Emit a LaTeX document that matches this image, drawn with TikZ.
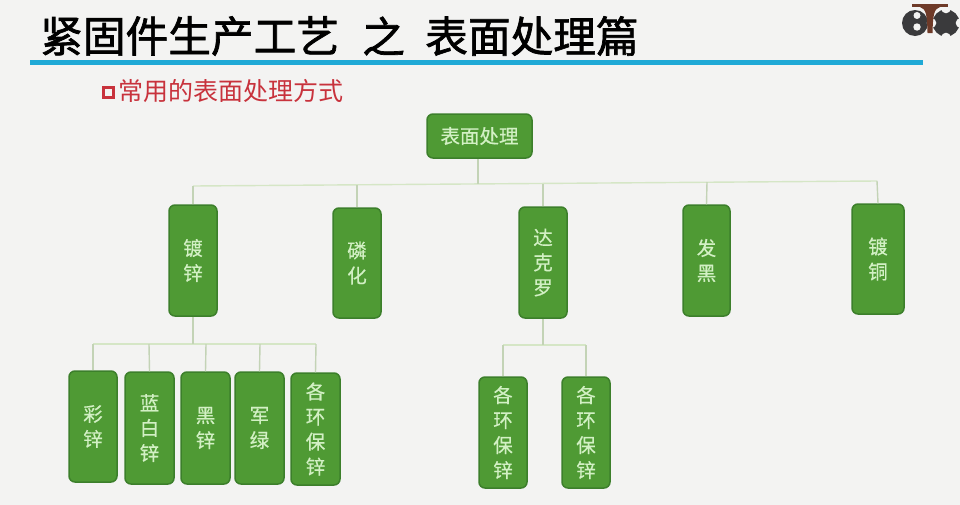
\documentclass[tikz,border=0pt]{standalone}
\usepackage{fontspec}
\setmainfont{Noto Sans CJK SC}
\newfontfamily\titlefont[FakeBold=1.6]{Noto Sans CJK SC}
\newfontfamily\boxfont[FakeBold=0.5]{Noto Sans CJK SC}
\definecolor{bgc}{HTML}{F3F3F2}
\definecolor{boxfill}{HTML}{4F9A34}
\definecolor{boxedge}{HTML}{3C7F2B}
\definecolor{boxtext}{HTML}{D2F0C4}
\definecolor{linkc}{HTML}{C3D3B6}
\definecolor{busc}{HTML}{D5E6C6}
\definecolor{ruleblue}{HTML}{1FA9D6}
\definecolor{subred}{HTML}{C8323C}
\definecolor{logod}{HTML}{3A3A3C}
\definecolor{logob}{HTML}{6E3A28}
\tikzset{
  x=1pt,y=-1pt,
  gbox/.style={draw=boxedge,line width=1.5pt,fill=boxfill,rounded corners=6pt,text=boxtext,inner sep=0pt,align=center,font=\boxfont\fontsize{19.5}{25}\selectfont},
  ttl/.style={anchor=west,inner sep=0pt,text=black,font=\titlefont\fontsize{42.7}{43}\selectfont},
  link/.style={draw=linkc,line width=1.4pt},
  bus/.style={draw=busc,line width=1.4pt},
}
\newcommand{\gnode}[5]{\node[gbox,minimum width=#3pt,minimum height=#4pt] (#1) at (#2) {#5};}
\begin{document}
\begin{tikzpicture}
\useasboundingbox (0,0) rectangle (960,504);
\begin{scope}
\clip (0,0) rectangle (960,504);
\fill[bgc] (-3,-3) rectangle (963,507);
% logo
\fill[logod] (915,23) circle (13);
\fill[bgc] (917,15.5) circle (3.5) (917,27) circle (3.7);
\fill[logod] (946,23) circle (13.5);
\fill[bgc] (946,8.5) circle (4.8) (946,37.5) circle (4.8) (931.5,23) circle (4.8) (960.5,23) circle (4.8);
\fill[logob] (912,3.5) rectangle (948,7);
\fill[logob] (920,7) .. controls (926,9) and (927,14) .. (927.5,33) -- (932.5,33) .. controls (933,14) and (934,9) .. (940,7) -- cycle;
\end{scope}
% title
\node[ttl] (title) at (40,36) {紧固件生产工艺};
\node[ttl] (title2) at (362,36) {之};
\node[ttl] (title3) at (425,36) {表面处理篇};
\fill[ruleblue] (30,60) rectangle (923,65);
% subtitle
\draw[subred,line width=3pt] (103,87) rectangle (113,97);
\node[anchor=west,inner sep=0pt,font=\fontsize{25}{25}\selectfont,text=subred] (sub) at (118,91) {常用的表面处理方式};
% bus coordinates
\coordinate (busL) at (193,186);
\coordinate (busR) at (877,181);
\coordinate (busA) at (357,185);
\coordinate (busB) at (478,184);
\coordinate (busC) at (543,183.5);
\coordinate (busD) at (707,182);
\coordinate (subL) at (93,344);
\coordinate (subS) at (193,344);
\coordinate (subB) at (149,344);
\coordinate (subC) at (206,344);
\coordinate (subD) at (260,344);
\coordinate (subR) at (316,344);
\coordinate (troL) at (503,345);
\coordinate (troS) at (543,345);
\coordinate (troR) at (586,345);
\draw[bus] (busL) -- (busR);
\draw[bus] (subL) -- (subR);
\draw[bus] (troL) -- (troR);
% boxes
\gnode{root}{479.5,136}{105}{44}{表面处理}
\gnode{a}{193,260.5}{48}{111}{镀\\锌}
\gnode{b}{357,263}{48}{110}{磷\\化}
\gnode{c}{543,262.5}{48}{111}{达\\克\\罗}
\gnode{d}{706.5,260.5}{47}{111}{发\\黑}
\gnode{e}{878,259}{52}{110}{镀\\铜}
\gnode{a1}{93,426.5}{48}{111}{彩\\锌}
\gnode{a2}{149.5,428}{49}{112}{蓝\\白\\锌}
\gnode{a3}{205.5,428}{49}{112}{黑\\锌}
\gnode{a4}{259.5,428}{49}{112}{军\\绿}
\gnode{a5}{315.5,429}{49}{112}{各\\环\\保\\锌}
\gnode{c1}{503,432.5}{48}{111}{各\\环\\保\\锌}
\gnode{c2}{586,432.5}{48}{111}{各\\环\\保\\锌}
% stems
\draw[link] (root.south -| busB) -- (busB);
\draw[link] (a.north) -- (busL);
\draw[link] (b.north) -- (busA);
\draw[link] (c.north) -- (busC);
\draw[link] (d.north) -- (busD);
\draw[link] (e.north) -- (busR);
\draw[link] (a.south) -- (subS);
\draw[link] (a1.north) -- (subL);
\draw[link] (a2.north) -- (subB);
\draw[link] (a3.north) -- (subC);
\draw[link] (a4.north) -- (subD);
\draw[link] (a5.north) -- (subR);
\draw[link] (c.south) -- (troS);
\draw[link] (c1.north) -- (troL);
\draw[link] (c2.north) -- (troR);
\end{tikzpicture}
\end{document}
